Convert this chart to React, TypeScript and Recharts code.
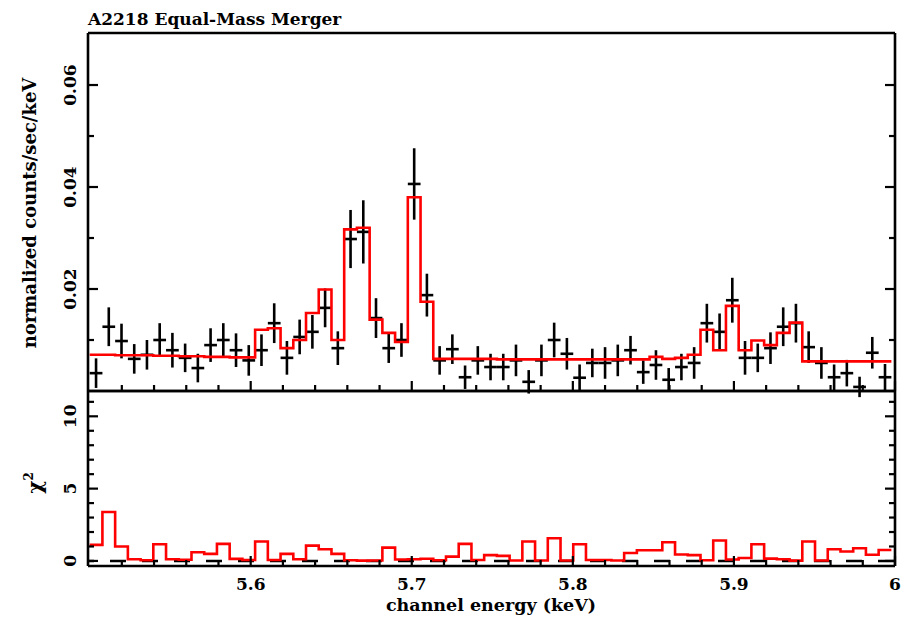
import { ComposedChart, Line, Scatter, ErrorBar, XAxis, YAxis, ReferenceLine } from 'recharts';

// channel centres (keV)
const energies = [
  5.5040, 5.5119, 5.5198, 5.5277, 5.5356, 5.5435, 5.5514, 5.5593, 5.5672, 5.5751,
  5.5830, 5.5909, 5.5988, 5.6067, 5.6146, 5.6225, 5.6304, 5.6383, 5.6462, 5.6541,
  5.6620, 5.6699, 5.6778, 5.6857, 5.6936, 5.7015, 5.7094, 5.7173, 5.7252, 5.7331,
  5.7410, 5.7489, 5.7568, 5.7647, 5.7726, 5.7805, 5.7884, 5.7963, 5.8042, 5.8121,
  5.8200, 5.8279, 5.8358, 5.8437, 5.8516, 5.8595, 5.8674, 5.8753, 5.8832, 5.8911,
  5.8990, 5.9069, 5.9148, 5.9227, 5.9306, 5.9385, 5.9464, 5.9543, 5.9622, 5.9701,
  5.9780, 5.9859, 5.9938,
];
const binHalf = 0.00395;

// normalized counts/sec/keV
const counts = [
  0.0035, 0.0126, 0.0098, 0.0063, 0.0071, 0.0100, 0.0080, 0.0065, 0.0045, 0.0090,
  0.0100, 0.0080, 0.0060, 0.0080, 0.0133, 0.0065, 0.0106, 0.0116, 0.0163, 0.0084,
  0.0298, 0.0312, 0.0143, 0.0084, 0.0100, 0.0406, 0.0188, 0.0060, 0.0082, 0.0027,
  0.0060, 0.0047, 0.0047, 0.0060, 0.0018, 0.0060, 0.0100, 0.0073, 0.0026, 0.0055,
  0.0055, 0.0060, 0.0080, 0.0037, 0.0051, 0.0022, 0.0047, 0.0055, 0.0133, 0.0116,
  0.0178, 0.0065, 0.0065, 0.0084, 0.0126, 0.0133, 0.0086, 0.0055, 0.0027, 0.0035,
  0.0008, 0.0075, 0.0027,
];
const countErr = [
  0.0029, 0.0038, 0.0034, 0.0029, 0.0029, 0.0033, 0.0034, 0.0028, 0.0028, 0.0033,
  0.0033, 0.0033, 0.0030, 0.0031, 0.0039, 0.0033, 0.0034, 0.0033, 0.0038, 0.0033,
  0.0057, 0.0062, 0.0039, 0.0029, 0.0033, 0.0070, 0.0042, 0.0028, 0.0029, 0.0023,
  0.0028, 0.0026, 0.0026, 0.0031, 0.0023, 0.0031, 0.0034, 0.0031, 0.0026, 0.0028,
  0.0031, 0.0031, 0.0028, 0.0023, 0.0029, 0.0023, 0.0026, 0.0031, 0.0038, 0.0036,
  0.0044, 0.0033, 0.0028, 0.0031, 0.0038, 0.0038, 0.0031, 0.0031, 0.0025, 0.0026,
  0.0020, 0.0031, 0.0026,
];
// folded model
const model = [
  0.0071, 0.0071, 0.0070, 0.0070, 0.0070, 0.0069, 0.0069, 0.0068, 0.0068, 0.0067,
  0.0067, 0.0066, 0.0066, 0.0120, 0.0123, 0.0084, 0.0100, 0.0153, 0.0199, 0.0100,
  0.0317, 0.0320, 0.0140, 0.0114, 0.0096, 0.0380, 0.0175, 0.0063, 0.0063, 0.0063,
  0.0063, 0.0063, 0.0062, 0.0062, 0.0062, 0.0062, 0.0062, 0.0062, 0.0062, 0.0062,
  0.0062, 0.0062, 0.0062, 0.0062, 0.0067, 0.0063, 0.0065, 0.0071, 0.0120, 0.0080,
  0.0167, 0.0080, 0.0099, 0.0090, 0.0114, 0.0134, 0.0058, 0.0058, 0.0058, 0.0058,
  0.0058, 0.0058, 0.0058,
];
// chi^2 contribution per channel
const chi2 = [
  1.11, 3.38, 1.00, 0.12, 0.05, 1.15, 0.12, 0.08, 0.60, 0.49,
  1.18, 0.14, 0.07, 1.34, 0.07, 0.49, 0.12, 1.06, 0.81, 0.49,
  0.05, 0.02, 0.03, 0.92, 0.10, 0.12, 0.15, 0.05, 0.30, 1.18,
  0.07, 0.40, 0.35, 0.03, 1.34, 0.03, 1.57, 0.03, 1.15, 0.07,
  0.07, 0.03, 0.55, 0.74, 0.74, 1.29, 0.45, 0.40, 0.05, 1.41,
  0.10, 0.20, 1.15, 0.16, 0.12, 0.02, 1.34, 0.03, 0.81, 0.65,
  0.88, 0.43, 0.76,
];

const xTicks = [
  5.52, 5.54, 5.56, 5.58, 5.6, 5.62, 5.64, 5.66, 5.68, 5.7, 5.72, 5.74, 5.76, 5.78,
  5.8, 5.82, 5.84, 5.86, 5.88, 5.9, 5.92, 5.94, 5.96, 5.98, 6.0,
];
const xMajor = [5.6, 5.7, 5.8, 5.9, 6.0];
const xMajorLabels = ['5.6', '5.7', '5.8', '5.9', '6'];
const yTopTicks = [0.01, 0.02, 0.03, 0.04, 0.05, 0.06];
const yTopMajor = [0.02, 0.04, 0.06];
const yTopLabels = ['0.02', '0.04', '0.06'];
const yChiTicks = [0, 1, 2, 3, 4, 5, 6, 7, 8, 9, 10, 11];
const yChiMajor = [0, 5, 10];
const yChiLabels = ['0', '5', '10'];

const points = energies.map((e, i) => ({ x: e, y: counts[i], ey: countErr[i], ex: binHalf }));
const stepOf = (vals: number[]) => [
  ...energies.map((e, i) => ({ x: e - binHalf, v: vals[i] })),
  { x: energies[energies.length - 1] + binHalf, v: vals[vals.length - 1] },
];
const modelSteps = stepOf(model);
const chiSteps = stepOf(chi2);

const FONT = '"DejaVu Serif", "Liberation Serif", serif';
const X_DOMAIN: [number, number] = [5.499, 6.0];
const TOP_DOMAIN: [number, number] = [0, 0.0702];
const CHI_DOMAIN: [number, number] = [-0.35, 11.75];

const findMajor = (v: number, majors: number[]) => majors.findIndex((m) => Math.abs(m - v) < 1e-9);

// ticks point into the frame, labels only where asked
function edgeTick(side: 'top' | 'bottom' | 'left' | 'right', majors: number[], labels?: string[]) {
  return (props: any) => {
    const { x, y, payload } = props;
    const mi = findMajor(payload.value, majors);
    const len = mi >= 0 ? 10 : 6;
    let x2 = x;
    let y2 = y;
    if (side === 'bottom') y2 = y - len;
    if (side === 'top') y2 = y + len;
    if (side === 'left') x2 = x + len;
    if (side === 'right') x2 = x - len;
    let label = null;
    if (labels && mi >= 0) {
      if (side === 'bottom') {
        label = (
          <text x={x} y={y + 24} textAnchor="middle" fontSize={17} fontWeight="bold" fontFamily={FONT} fill="#000">
            {labels[mi]}
          </text>
        );
      } else if (side === 'left') {
        label = (
          <text x={x - 12} y={y} textAnchor="middle" fontSize={17} fontWeight="bold" fontFamily={FONT} fill="#000"
            transform={`rotate(-90, ${x - 12}, ${y})`}>
            {labels[mi]}
          </text>
        );
      }
    }
    return (
      <g>
        <line x1={x} y1={y} x2={x2} y2={y2} stroke="#000" strokeWidth={2.2} />
        {label}
      </g>
    );
  };
}

const axisLine = { stroke: '#000', strokeWidth: 2.6 };

export default function App() {
  return (
    <div style={{ position: 'absolute', left: 0, top: 0, width: 904, height: 618, background: '#fff', overflow: 'hidden' }}>
      <div style={{ position: 'absolute', left: 0, top: 0 }}>
        <ComposedChart width={904} height={400} margin={{ top: 32, right: 8, bottom: 8, left: 87 }}>
          <XAxis type="number" dataKey="x" domain={X_DOMAIN} ticks={xTicks} interval={0} height={1}
            tickSize={0} tickMargin={0} axisLine={axisLine} tickLine={false} tick={edgeTick('bottom', xMajor)} allowDataOverflow />
          <XAxis xAxisId="t" orientation="top" type="number" domain={X_DOMAIN} ticks={xTicks} interval={0} height={1}
            tickSize={0} tickMargin={0} axisLine={axisLine} tickLine={false} tick={edgeTick('top', xMajor)} allowDataOverflow />
          <YAxis type="number" domain={TOP_DOMAIN} ticks={yTopTicks} interval={0} width={1}
            tickSize={0} tickMargin={0} axisLine={axisLine} tickLine={false} tick={edgeTick('left', yTopMajor, yTopLabels)} allowDataOverflow />
          <YAxis yAxisId="r" orientation="right" type="number" domain={TOP_DOMAIN} ticks={yTopTicks} interval={0} width={1}
            tickSize={0} tickMargin={0} axisLine={axisLine} tickLine={false} tick={edgeTick('right', yTopMajor)} allowDataOverflow />
          <Scatter data={points} dataKey="y" shape={() => <g />} isAnimationActive={false}>
            <ErrorBar dataKey="ey" direction="y" width={0} stroke="#000" strokeWidth={2.6} isAnimationActive={false} />
            <ErrorBar dataKey="ex" direction="x" width={0} stroke="#000" strokeWidth={2.6} isAnimationActive={false} />
          </Scatter>
          <Line data={modelSteps} dataKey="v" type="stepAfter" stroke="#ff0000" strokeWidth={2.6} dot={false} isAnimationActive={false} />
        </ComposedChart>
      </div>
      <div style={{ position: 'absolute', left: 0, top: 380 }}>
        <ComposedChart width={904} height={238} margin={{ top: 10, right: 8, bottom: 51, left: 87 }}>
          <XAxis type="number" dataKey="x" domain={X_DOMAIN} ticks={xTicks} interval={0} height={1}
            tickSize={0} tickMargin={0} axisLine={axisLine} tickLine={false} tick={edgeTick('bottom', xMajor, xMajorLabels)} allowDataOverflow />
          <XAxis xAxisId="t" orientation="top" type="number" domain={X_DOMAIN} ticks={xTicks} interval={0} height={1}
            tickSize={0} tickMargin={0} axisLine={axisLine} tickLine={false} tick={edgeTick('top', xMajor)} allowDataOverflow />
          <YAxis type="number" domain={CHI_DOMAIN} ticks={yChiTicks} interval={0} width={1}
            tickSize={0} tickMargin={0} axisLine={axisLine} tickLine={false} tick={edgeTick('left', yChiMajor, yChiLabels)} allowDataOverflow />
          <YAxis yAxisId="r" orientation="right" type="number" domain={CHI_DOMAIN} ticks={yChiTicks} interval={0} width={1}
            tickSize={0} tickMargin={0} axisLine={axisLine} tickLine={false} tick={edgeTick('right', yChiMajor)} allowDataOverflow />
          <ReferenceLine y={0} stroke="#000" strokeWidth={2.4} strokeDasharray="16 16" strokeDashoffset={10} />
          <Line data={chiSteps} dataKey="v" type="stepAfter" stroke="#ff0000" strokeWidth={2.6} dot={false} isAnimationActive={false} />
        </ComposedChart>
      </div>
      <svg width={904} height={618} style={{ position: 'absolute', left: 0, top: 0, pointerEvents: 'none' }}>
        <g fontFamily={FONT} fontWeight="bold" fill="#000">
          <text x={88} y={25} fontSize={17}>A2218 Equal-Mass Merger</text>
          <text x={36} y={213} fontSize={18} textAnchor="middle" transform="rotate(-90, 36, 213)">
            normalized counts/sec/keV
          </text>
          <text x={42} y={483} fontSize={20} textAnchor="middle" transform="rotate(-90, 42, 483)">
            χ<tspan fontSize={12} dy={-9}>2</tspan>
          </text>
          <text x={491} y={611} fontSize={17.5} textAnchor="middle">channel energy (keV)</text>
        </g>
      </svg>
    </div>
  );
}
